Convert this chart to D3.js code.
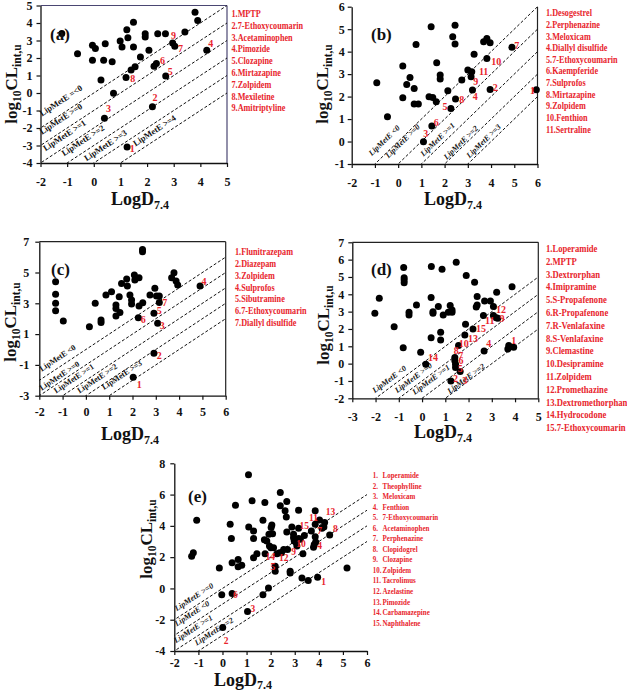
<!DOCTYPE html>
<html><head><meta charset="utf-8">
<script src="https://cdn.jsdelivr.net/npm/d3@7"></script>
<style>
body{margin:0;background:#fff}
svg{display:block}
text{font-family:"Liberation Serif","Times New Roman",serif;}
</style>
</head><body>
<svg id="chart" width="627" height="693"></svg>
<script>
// ---------- Panel (a) ----------
const pointsA = [[-1.2,3.4],[-0.61,2.25],[-0.05,2.73],[0.06,2.54],[-0.05,1.87],[0.43,2.82],[0.37,1.87],[0.69,1.78],[0.27,0.74],[0.74,-0.02],[0.99,2.97],[1.06,2.63],[1.24,3.62],[1.28,3.16],[1.49,4.05],[1.49,2.63],[1.75,2.06],[1.93,3.39],[1.93,3.2],[2.07,2.44],[2.4,3.39],[2.69,3.39],[2.96,2.86],[3.04,2.67],[3.42,3.48],[3.8,4.62],[3.9,4.15],[4.24,2.44],[2.26,1.53],[2.35,1.69],[1.4,1.31],[1.55,1.5],[1.21,0.89],[2.7,0.97],[2.2,-0.78],[0.4,-1.44],[1.25,-3.09]];
const numLabelsA = [[1,1.44,-3.18],[2,2.3,-0.27],[3,0.55,-0.87],[4,4.39,2.82],[5,2.87,1.25],[6,2.58,1.84],[7,3.25,2.54],[8,1.46,0.83],[9,2.99,3.3]];
const namesA = ["MPTP","7-Ethoxycoumarin","Acetaminophen","Pimozide","Clozapine","Mirtazapine","Zolpidem","Mexiletine","Amitriptyline"];
const lipOffsetsA = [0,-1,-2,-3,-4,-5];
const lipLabelsA = [["LipMetE =<0",-1.94,-1.34],["LipMetE >=0",-1.94,-2.39],["LipMetE >=1",-1.81,-3.33],["LipMetE >=2",-1.12,-3.62],["LipMetE >=3",-0.27,-3.9],["LipMetE >=4",1.57,-3.05]];
const xTicksA = [-2,-1,0,1,2,3,4,5];
const yTicksA = [-4,-3,-2,-1,0,1,2,3,4,5];

// ---------- Panel (b) ----------
const pointsB = [[-0.92,2.62],[-0.46,1.1],[0.2,3.36],[0.2,1.95],[0.37,2.54],[0.51,2.85],[0.69,2.36],[0.77,4.32],[0.69,1.67],[0.87,1.67],[1.33,1.99],[1.42,5.11],[1.49,1.96],[1.64,1.77],[1.66,3.51],[1.81,2.96],[1.81,2.78],[2.14,2.26],[2.27,1.47],[2.35,4.66],[2.45,5.18],[2.45,4.34],[2.47,1.89],[2.74,2.74],[3.0,3.18],[3.14,2.88],[3.17,3.1],[3.2,2.29],[3.27,3.88],[3.68,4.44],[3.82,4.59],[3.96,4.4],[3.82,3.7],[3.96,2.32],[4.9,4.19],[1.45,0.69],[1.09,-0.01],[5.95,2.3]];
const numLabelsB = [[1,5.78,2.25],[2,4.18,2.41],[3,1.19,0.36],[4,3.32,1.99],[5,2.02,1.55],[6,1.64,0.84],[7,5.11,4.29],[8,2.74,1.89],[9,3.34,2.66],[10,4.22,3.58],[11,3.68,3.1]];
const namesB = ["Desogestrel","Perphenazine","Meloxicam","Diallyl disulfide","7-Ethoxycoumarin","Kaempferide","Sulprofos","Mirtazapine","Zolpidem","Fenthion","Sertraline"];
const lipOffsetsB = [0,-1,-2,-3,-4];
const lipLabelsB = [["LipMetE <0",-1.14,-0.65],["LipMetE >=0",-0.42,-0.75],["LipMetE >=1",1.09,-0.68],["LipMetE >=2",2.09,-0.82],["LipMetE >=3",3.07,-0.75]];
const xTicksB = [-2,-1,0,1,2,3,4,5,6];
const yTicksB = [-1,0,1,2,3,4,5,6];

// ---------- Panel (c) ----------
const pointsC = [[-1.3,4.4],[-1.3,3.58],[-1.3,3.0],[-1.3,2.52],[-0.97,1.85],[0.15,1.48],[0.4,3.0],[0.65,1.91],[0.65,1.76],[0.86,3.54],[1.1,3.75],[1.29,2.89],[1.29,2.67],[1.29,2.17],[1.43,3.43],[1.46,2.41],[1.53,4.29],[1.75,4.58],[1.78,4.12],[1.89,3.54],[1.96,3.21],[1.96,2.95],[2.08,4.84],[2.1,4.51],[2.28,4.66],[2.28,2.82],[2.44,3.04],[2.25,2.06],[2.43,6.5],[2.43,6.35],[2.75,3.54],[2.96,3.97],[3.03,3.47],[3.15,3.47],[3.15,3.06],[2.92,2.35],[3.08,1.7],[2.92,-0.25],[2.03,-1.81],[3.68,4.66],[3.78,4.99],[3.87,4.45],[3.94,4.19],[4.9,4.12]];
const numLabelsC = [[1,2.29,-2.26],[2,3.15,-0.36],[3,3.28,1.55],[4,5.07,4.4],[5,3.15,2.56],[6,2.46,1.98],[7,3.38,3.06]];
const namesC = ["Flunitrazepam","Diazepam","Zolpidem","Sulprofos","Sibutramine","7-Ethoxycoumarin","Diallyl disulfide"];
const lipOffsetsC = [0,-1,-2,-3,-4];
const lipLabelsC = [["LipMetE <0",-1.9,-1.44],["LipMetE >=0",-1.9,-2.68],["LipMetE >=1",-1.28,-2.85],["LipMetE >=2",-0.28,-2.85],["LipMetE >=3",0.78,-2.63]];
const xTicksC = [-2,-1,0,1,2,3,4,5,6];
const yTicksC = [-3,-1,1,3,5,7];

// ---------- Panel (d) ----------
const pointsD = [[-2.03,2.9],[-1.84,3.77],[-1.2,2.13],[-0.81,0.92],[-0.79,5.54],[-0.77,4.96],[-0.77,4.83],[-0.77,4.67],[-0.56,2.96],[-0.56,2.81],[-0.24,3.38],[-0.06,0.65],[0.16,-0.04],[0.4,5.6],[0.39,3.81],[0.39,1.5],[0.47,3.0],[0.47,2.9],[0.7,3.29],[0.8,1.81],[0.8,1.37],[0.86,5.44],[0.91,2.81],[1.13,2.96],[1.21,3.35],[1.29,3.1],[1.29,2.96],[1.47,5.85],[1.24,-1.0],[1.41,0.35],[1.41,0.17],[1.44,-0.04],[1.44,-0.23],[1.57,1.04],[1.64,-0.46],[1.84,1.65],[1.87,2.27],[1.9,5.08],[2.19,2.0],[2.26,4.69],[2.33,3.27],[2.37,3.38],[2.37,3.87],[2.69,3.62],[2.64,2.77],[2.67,0.73],[2.94,3.62],[3.07,3.29],[3.07,2.77],[3.19,2.65],[3.21,4.12],[3.26,2.62],[3.69,0.85],[3.73,1.04],[3.94,0.94],[3.87,4.44]];
const numLabelsD = [[1,3.94,1.31],[2,1.44,-0.88],[3,1.84,-1.0],[4,2.87,1.15],[5,1.64,-0.27],[6,1.68,0.18],[7,1.66,0.46],[8,1.47,0.73],[9,3.44,2.58],[10,1.79,1.17],[11,2.91,2.46],[12,3.4,3.1],[13,2.19,1.46],[14,0.47,0.35],[15,2.54,2.0]];
const namesD = ["Loperamide","MPTP","Dextrorphan","Imipramine","S-Propafenone","R-Propafenone","R-Venlafaxine","S-Venlafaxine","Clemastine","Desipramine","Zolpidem","Promethazine","Dextromethorphan","Hydrocodone","7-Ethoxycoumarin"];
const lipOffsetsD = [0,-1,-2,-3];
const lipLabelsD = [["LipMetE <0",-2.03,-1.71],["LipMetE >=0",-1.07,-1.71],["LipMetE >=1",-0.31,-1.81],["LipMetE >=2",1.19,-1.75]];
const xTicksD = [-3,-2,-1,0,1,2,3,4,5];
const yTicksD = [-2,-1,0,1,2,3,4,5,6,7];

// ---------- Panel (e) ----------
const pointsE = [[-1.28,2.06],[-1.21,2.28],[-1.07,4.36],[-0.13,1.31],[-0.03,-0.4],[0.01,-2.5],[0.32,4.1],[0.37,3.19],[0.4,1.64],[0.4,-0.32],[0.54,5.32],[0.65,1.85],[0.65,1.38],[0.8,1.49],[1.04,-1.47],[1.08,7.27],[1.09,3.93],[1.23,5.6],[1.29,3.67],[1.29,3.2],[1.29,1.96],[1.43,2.21],[1.76,5.49],[1.68,4.36],[1.68,-0.4],[1.74,3.11],[1.84,3.03],[1.77,2.21],[1.91,0.03],[1.93,3.46],[1.95,2.71],[2.01,2.6],[2.02,3.89],[2.05,4.06],[2.08,3.5],[2.12,2.6],[2.19,1.42],[2.19,1.1],[2.26,2.21],[2.37,2.28],[2.4,6.14],[2.4,5.28],[2.45,2.28],[2.54,2.49],[2.67,5.55],[2.6,4.96],[2.65,4.57],[2.67,3.61],[2.7,2.49],[2.81,1.1],[2.81,0.99],[2.88,3.93],[2.95,3.46],[2.95,3.24],[2.98,3.03],[3.06,2.92],[3.09,2.71],[3.16,3.84],[3.16,3.2],[3.23,3.14],[3.16,5.0],[3.3,0.67],[3.4,3.39],[3.34,2.21],[3.56,0.5],[3.69,3.67],[3.85,4.96],[3.85,4.1],[3.85,3.3],[3.87,2.97],[3.81,2.81],[3.78,2.64],[3.95,0.71],[4.03,4.38],[4.13,3.84],[4.21,3.93],[4.24,4.21],[4.45,3.41],[5.17,1.31]];
const numLabelsE = [[1,4.2,0.45],[2,0.15,-3.35],[3,1.26,-1.27],[4,4.03,2.75],[5,2.09,1.36],[6,0.54,-0.4],[7,4.03,3.71],[8,4.69,3.82],[9,2.95,2.34],[10,3.26,2.86],[11,3.78,4.53],[12,2.54,1.96],[13,4.48,4.91],[14,1.98,2.06],[15,3.4,3.99]];
const namesE = ["Loperamide","Theophylline","Meloxicam","Fenthion","7-Ethoxycoumarin","Acetaminophen","Perphenazine","Clopidogrel","Clozapine","Zolpidem","Tacrolimus","Azelastine","Pimozide","Carbamazepine","Naphthalene"];
const lipOffsetsE = [0,-1,-2,-3];
const lipLabelsE = [["LipMetE >=0",-1.9,-1.46],["LipMetE <0",-1.9,-2.43],["LipMetE >=1",-1.93,-3.5],["LipMetE >=2",-1.07,-3.66]];
const xTicksE = [-2,-1,0,1,2,3,4,5,6];
const yTicksE = [-4,-2,0,2,4,6,8];

const RED = "#e8242c";
const svg = d3.select("#chart");

function panel(o) {
  const g = svg.append("g");
  const x = d3.scaleLinear().domain(o.xd).range(o.xr);
  const y = d3.scaleLinear().domain(o.yd).range(o.yr);
  const clipId = "clip" + o.tag;
  svg.append("clipPath").attr("id", clipId).append("rect")
    .attr("x", o.xr[0]).attr("y", o.yr[1])
    .attr("width", o.xr[1] - o.xr[0]).attr("height", o.yr[0] - o.yr[1]);

  if (o.top) g.append("line").attr("x1", o.xr[0]).attr("x2", o.xr[1]).attr("y1", o.yr[1]).attr("y2", o.yr[1])
    .attr("stroke", o.frameColor || "#222").attr("stroke-width", 1.2);
  if (o.right) g.append("line").attr("x1", o.xr[1]).attr("x2", o.xr[1]).attr("y1", o.yr[1]).attr("y2", o.yr[0])
    .attr("stroke", o.frameColor || "#222").attr("stroke-width", 1.2);

  const xa = d3.axisBottom(x).tickValues(o.xt).tickSize(4).tickSizeOuter(0).tickPadding(o.xpad).tickFormat(d => String(d));
  const ya = d3.axisLeft(y).tickValues(o.yt).tickSize(4).tickSizeOuter(0).tickPadding(o.ypad).tickFormat(d => String(d));
  const gx = g.append("g").attr("transform", `translate(0,${o.yr[0]})`).call(xa);
  const gy = g.append("g").attr("transform", `translate(${o.xr[0]},0)`).call(ya);
  [gx, gy].forEach(a => {
    a.selectAll("path").attr("stroke", "#111").attr("stroke-width", 1.3);
    a.selectAll("line").attr("stroke", "#111").attr("stroke-width", 1.2);
    a.selectAll("text").attr("font-family", "Liberation Serif, serif").attr("font-weight", "bold")
      .attr("font-size", o.tickFont).attr("fill", "#111");
  });

  const lg = g.append("g").attr("clip-path", `url(#${clipId})`);
  o.lines.forEach(c => {
    lg.append("line")
      .attr("x1", x(o.xd[0] - 2)).attr("y1", y(o.xd[0] - 2 + c))
      .attr("x2", x(o.xd[1] + 2)).attr("y2", y(o.xd[1] + 2 + c))
      .attr("stroke", "#111").attr("stroke-width", 1).attr("stroke-dasharray", "3,2");
  });
  const ang = Math.atan2(y(1) - y(0), x(1) - x(0)) * 180 / Math.PI;
  o.lipLabels.forEach(([t, lx, ly]) => {
    g.append("text").attr("transform", `translate(${x(lx)},${y(ly)}) rotate(${ang})`)
      .attr("font-size", o.lipFont).attr("font-weight", "bold")
      .attr("font-style", o.lipItalic ? "italic" : "normal")
      .attr("fill", "#111").text(t);
  });

  g.append("g").selectAll("circle").data(o.points).join("circle")
    .attr("cx", d => x(d[0])).attr("cy", d => y(d[1])).attr("r", 3.5).attr("fill", "#000");

  g.append("g").selectAll("text").data(o.numLabels).join("text")
    .attr("x", d => x(d[1])).attr("y", d => y(d[2])).attr("dy", "0.35em")
    .attr("text-anchor", "middle").attr("font-size", o.numFont).attr("font-weight", "bold")
    .attr("fill", RED).text(d => d[0]);

  g.append("text").attr("x", o.tagPos[0]).attr("y", o.tagPos[1]).attr("font-size", 17)
    .attr("font-weight", "bold").attr("fill", "#111").text(`(${o.tag})`);

  const yl = g.append("text").attr("transform", `translate(${o.ylab[0]},${o.ylab[1]}) rotate(-90)`)
    .attr("text-anchor", "middle").attr("font-weight", "bold").attr("font-size", 17).attr("fill", "#111");
  yl.append("tspan").text("log");
  yl.append("tspan").attr("font-size", 11.5).attr("dy", 4).text("10");
  yl.append("tspan").attr("dy", -4).text("CL");
  yl.append("tspan").attr("font-size", 11.5).attr("dy", 4).text("int,u");

  const xl = g.append("text").attr("x", o.xlab[0]).attr("y", o.xlab[1])
    .attr("text-anchor", "middle").attr("font-weight", "bold").attr("font-size", 18).attr("fill", "#111");
  xl.append("tspan").text("LogD");
  xl.append("tspan").attr("font-size", 12).attr("dy", o.subDy || 4).text("7.4");

  const leg = g.append("g").attr("transform", `translate(${o.leg.x},${o.leg.y}) scale(0.82,1)`);
  o.names.forEach((n, i) => {
    if (o.leg.split) {
      leg.append("text").attr("x", 0).attr("y", i * o.leg.dy).attr("dy", "0.35em")
        .attr("font-size", o.leg.font).attr("font-weight", "bold").attr("fill", RED).text(`${i + 1}.`);
      leg.append("text").attr("x", o.leg.split).attr("y", i * o.leg.dy).attr("dy", "0.35em")
        .attr("font-size", o.leg.font).attr("font-weight", "bold").attr("fill", RED).text(n);
    } else {
      leg.append("text").attr("x", 0).attr("y", i * o.leg.dy).attr("dy", "0.35em")
        .attr("font-size", o.leg.font).attr("font-weight", "bold").attr("fill", RED).text(`${i + 1}.${n}`);
    }
  });
}

panel({tag:"a", xd:[-2,5], yd:[-4,5], xr:[40.5,227], yr:[163,5.5], xt:xTicksA, yt:yTicksA,
  xpad:10, ypad:4, tickFont:12, top:true, right:true, frameColor:"#4a4672",
  points:pointsA, numLabels:numLabelsA, lines:lipOffsetsA, lipLabels:lipLabelsA, lipFont:8.5, lipItalic:false,
  numFont:10, tagPos:[50,40], ylab:[17,84], xlab:[140,205], names:namesA,
  leg:{x:231.5, y:13.5, dy:11.8, font:10}});

panel({tag:"b", xd:[-2,6], yd:[-1,6], xr:[351.7,537.5], yr:[164,6.7], xt:xTicksB, yt:yTicksB,
  xpad:10, ypad:3, tickFont:12, top:false, right:true,
  points:pointsB, numLabels:numLabelsB, lines:lipOffsetsB, lipLabels:lipLabelsB, lipFont:8, lipItalic:true,
  numFont:10, tagPos:[371,40], ylab:[328,84], xlab:[453,205], names:namesB,
  leg:{x:546, y:12.7, dy:11.66, font:10}});

panel({tag:"c", xd:[-2,6], yd:[-3,7], xr:[39.3,225.7], yr:[395.7,241.7], xt:xTicksC, yt:yTicksC,
  xpad:8, ypad:6, tickFont:12, top:true, right:true,
  points:pointsC, numLabels:numLabelsC, lines:lipOffsetsC, lipLabels:lipLabelsC, lipFont:8, lipItalic:false,
  numFont:10, tagPos:[51,275], ylab:[16,322], xlab:[130,440], names:namesC,
  leg:{x:235, y:251.7, dy:11.8, font:10}});

panel({tag:"d", xd:[-3,5], yd:[-2,7], xr:[352.3,538.3], yr:[398.3,242.3], xt:xTicksD, yt:yTicksD,
  xpad:10, ypad:4, tickFont:12, top:true, right:true,
  points:pointsD, numLabels:numLabelsD, lines:lipOffsetsD, lipLabels:lipLabelsD, lipFont:8, lipItalic:true,
  numFont:10, tagPos:[371,275], ylab:[329,325], xlab:[443,438], names:namesD,
  leg:{x:546, y:248.3, dy:12.8, font:10.5}});

panel({tag:"e", xd:[-2,6], yd:[-4,8], xr:[174.3,367], yr:[651,463.3], xt:xTicksE, yt:yTicksE,
  xpad:3, ypad:5, tickFont:12, top:false, right:false,
  points:pointsE, numLabels:numLabelsE, lines:lipOffsetsE, lipLabels:lipLabelsE, lipFont:8, lipItalic:true,
  numFont:9.5, tagPos:[188,502], ylab:[152,539], xlab:[243,686], subDy:3, names:namesE,
  leg:{x:372.7, y:475, dy:10.55, font:8.5, split:12}});
</script>
</body></html>
